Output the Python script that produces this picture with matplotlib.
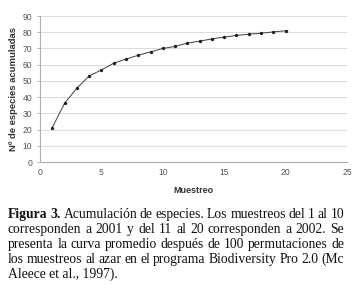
import matplotlib
matplotlib.use("Agg")
import matplotlib.pyplot as plt

# data
muestreo = list(range(1, 21))
especies = [21.2, 36.2, 45.5, 53.0, 56.8, 60.9, 63.4, 65.8, 67.9, 70.0,
            71.2, 73.3, 74.5, 75.9, 77.0, 78.0, 78.8, 79.4, 80.2, 80.9]
y_ticks = list(range(0, 91, 10))
x_ticks = [0, 5, 10, 15, 20, 25]

caption_lines = [
    [("Figura", True), ("3.", True), ("Acumulación", False), ("de", False), ("especies.", False),
     ("Los", False), ("muestreos", False), ("del", False), ("1", False), ("al", False), ("10", False)],
    "corresponden a 2001 y del 11 al 20 corresponden a 2002. Se",
    "presenta la curva promedio después de 100 permutaciones de",
    "los muestreos al azar en el programa Biodiversity Pro 2.0 (Mc",
]
caption_last = "Aleece et al., 1997)."

W, H = 355, 285
fig = plt.figure(figsize=(W / 100, H / 100), dpi=100)
fig.patch.set_facecolor("white")

# axes box in pixels: x 40..347, y 16..162 (from top)
ax = fig.add_axes([40 / W, 1 - 162 / H, (347 - 40) / W, (162 - 16) / H])
ax.plot(muestreo, especies, color="#404040", lw=0.7, marker="o", ms=1.4,
        mfc="#202020", mec="#202020", zorder=3)
ax.set_xlim(0, 25)
ax.set_ylim(0, 90)
ax.set_xticks(x_ticks)
ax.set_yticks(y_ticks)
ax.grid(axis="y", color="#dcdcdc", lw=0.8)
ax.set_axisbelow(True)
for s in ["top", "right"]:
    ax.spines[s].set_visible(False)
for s in ["left", "bottom"]:
    ax.spines[s].set_color("#b0b0b0")
    ax.spines[s].set_linewidth(0.8)
ax.tick_params(axis="both", labelsize=6.2, colors="#b0b0b0", labelcolor="#555555",
               length=2, width=0.6)
ax.tick_params(axis="x", length=0, pad=4)
for lab in ax.get_xticklabels() + ax.get_yticklabels():
    lab.set_family("Liberation Sans")
ax.set_xlabel("Muestreo", fontsize=6.5, fontweight="bold", family="Liberation Sans",
              color="#333333", labelpad=7)
ax.set_ylabel("Nº de especies acumuladas", fontsize=6.8, fontweight="bold",
              family="Liberation Sans", color="#333333", labelpad=3)

# justified caption
fig.canvas.draw()
renderer = fig.canvas.get_renderer()
left, right = 8, 344
y0, dy = 214.5, 15
fs = 9.82

def px(x, y):
    return x / W, 1 - y / H

for i, line in enumerate(caption_lines):
    if isinstance(line, str):
        words = [(w, False) for w in line.split()]
    else:
        words = line
    texts = []
    for w, bold in words:
        t = fig.text(0, 0, w, fontsize=fs, family="Liberation Serif",
                     fontweight="bold" if bold else "normal", va="center", ha="left",
                     color="#111111")
        texts.append(t)
    widths = [t.get_window_extent(renderer).width for t in texts]
    gap = (right - left - sum(widths)) / (len(texts) - 1)
    x = left
    y = y0 + i * dy
    for t, wdt in zip(texts, widths):
        t.set_position(px(x, y))
        x += wdt + gap

fig.text(*px(left, y0 + 4 * dy), caption_last, fontsize=fs, family="Liberation Serif",
         va="center", ha="left", color="#111111")

fig.savefig("out.png", dpi=100)
